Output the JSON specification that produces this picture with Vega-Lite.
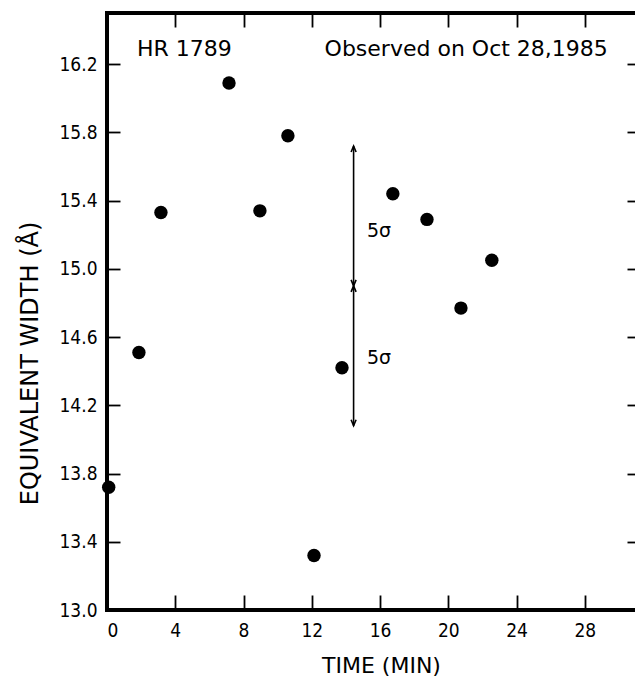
{
  "$schema": "https://vega.github.io/schema/vega-lite/v6.json",
  "width": 535,
  "height": 597,
  "autosize": "none",
  "padding": {"left": 107, "top": 13, "right": 0, "bottom": 67},
  "background": "white",
  "config": {
    "view": {"stroke": "black", "strokeWidth": 4},
    "font": "DejaVu Sans",
    "axis": {"domain": false, "grid": false, "tickColor": "black", "tickWidth": 1.8, "labelColor": "black", "titleColor": "black", "labelFont": "DejaVu Sans Condensed", "titleFont": "DejaVu Sans", "labelFontSize": 19, "titleFontSize": 22, "titleFontWeight": "normal"}
  },
  "datasets": {
    "obs": [
      {"t": 0.1, "w": 13.72},
      {"t": 1.87, "w": 14.51},
      {"t": 3.16, "w": 15.33},
      {"t": 7.15, "w": 16.09},
      {"t": 8.96, "w": 15.34},
      {"t": 10.6, "w": 15.78},
      {"t": 12.13, "w": 13.32},
      {"t": 13.77, "w": 14.42},
      {"t": 16.75, "w": 15.44},
      {"t": 18.75, "w": 15.29},
      {"t": 20.74, "w": 14.77},
      {"t": 22.55, "w": 15.05}
    ],
    "arrows": [
      {"t": 14.45, "y1": 14.9, "y2": 15.72},
      {"t": 14.45, "y1": 14.08, "y2": 14.9}
    ],
    "heads": [
      {"t": 14.45, "w": 15.72, "dir": "up"},
      {"t": 14.45, "w": 14.9, "dir": "down"},
      {"t": 14.45, "w": 14.9, "dir": "up"},
      {"t": 14.45, "w": 14.08, "dir": "down"}
    ],
    "labels": [
      {"t": 1.76, "w": 16.29, "text": "HR 1789", "size": "big"},
      {"t": 12.75, "w": 16.29, "text": "Observed on Oct 28,1985", "size": "big"},
      {"t": 15.23, "w": 15.22, "text": "5σ", "size": "small"},
      {"t": 15.23, "w": 14.48, "text": "5σ", "size": "small"}
    ]
  },
  "layer": [
    {
      "data": {"name": "obs"},
      "mark": {"type": "point", "filled": true, "color": "black", "size": 180, "opacity": 1},
      "encoding": {
        "x": {"field": "t", "type": "quantitative", "scale": {"domain": [0, 31.35], "nice": false, "zero": false},
          "axis": {"orient": "bottom", "values": [0, 4, 8, 12, 16, 20, 24, 28], "tickSize": -15, "labelPadding": 26, "title": "TIME (MIN)", "titlePadding": 15, "titleX": 274}},
        "y": {"field": "w", "type": "quantitative", "scale": {"domain": [13.0, 16.5], "nice": false, "zero": false},
          "axis": {"orient": "left", "values": [13.0, 13.4, 13.8, 14.2, 14.6, 15.0, 15.4, 15.8, 16.2], "format": ".1f", "tickSize": -13, "labelPadding": 23, "title": "EQUIVALENT WIDTH (Å)", "titleFontSize": 24, "titlePadding": 16, "titleY": 350}}
      }
    },
    {
      "data": {"name": "arrows"},
      "mark": {"type": "rule", "color": "black", "strokeWidth": 1.6},
      "encoding": {
        "x": {"field": "t", "type": "quantitative", "scale": {"domain": [0, 31.35], "nice": false, "zero": false},
          "axis": {"orient": "top", "values": [4, 8, 12, 16, 20, 24, 28], "tickSize": -14, "labels": false, "title": null}},
        "y": {"field": "y1", "type": "quantitative", "scale": {"domain": [13.0, 16.5], "nice": false, "zero": false},
          "axis": {"orient": "right", "values": [13.4, 13.8, 14.2, 14.6, 15.0, 15.4, 15.8, 16.2], "tickSize": -15, "labels": false, "title": null}},
        "y2": {"field": "y2"}
      }
    },
    {
      "mark": {"type": "rule", "color": "black", "strokeWidth": 1.6, "strokeDash": [14, 8]},
      "encoding": {
        "y": {"datum": 14.9, "type": "quantitative", "scale": {"domain": [13.0, 16.5], "nice": false, "zero": false}, "axis": null}
      }
    },
    {
      "data": {"name": "heads"},
      "mark": {"type": "point", "filled": false, "color": "black", "strokeWidth": 1.6, "size": 100, "opacity": 1},
      "encoding": {
        "x": {"field": "t", "type": "quantitative", "scale": {"domain": [0, 31.35], "nice": false, "zero": false}, "axis": null},
        "y": {"field": "w", "type": "quantitative", "scale": {"domain": [13.0, 16.5], "nice": false, "zero": false}, "axis": null},
        "shape": {"field": "dir", "type": "nominal", "scale": {"domain": ["up", "down"], "range": ["M-0.5,1.2L0,0L0.5,1.2", "M-0.5,-1.2L0,0L0.5,-1.2"]}, "legend": null}
      }
    },
    {
      "data": {"name": "labels"},
      "mark": {"type": "text", "align": "left", "baseline": "middle", "color": "black", "font": "DejaVu Sans"},
      "encoding": {
        "x": {"field": "t", "type": "quantitative", "scale": {"domain": [0, 31.35], "nice": false, "zero": false}, "axis": null},
        "y": {"field": "w", "type": "quantitative", "scale": {"domain": [13.0, 16.5], "nice": false, "zero": false}, "axis": null},
        "text": {"field": "text"},
        "size": {"field": "size", "type": "nominal", "scale": {"domain": ["big", "small"], "range": [22, 19]}, "legend": null}
      }
    }
  ],
  "resolve": {"axis": {"x": "independent", "y": "independent"}}
}
